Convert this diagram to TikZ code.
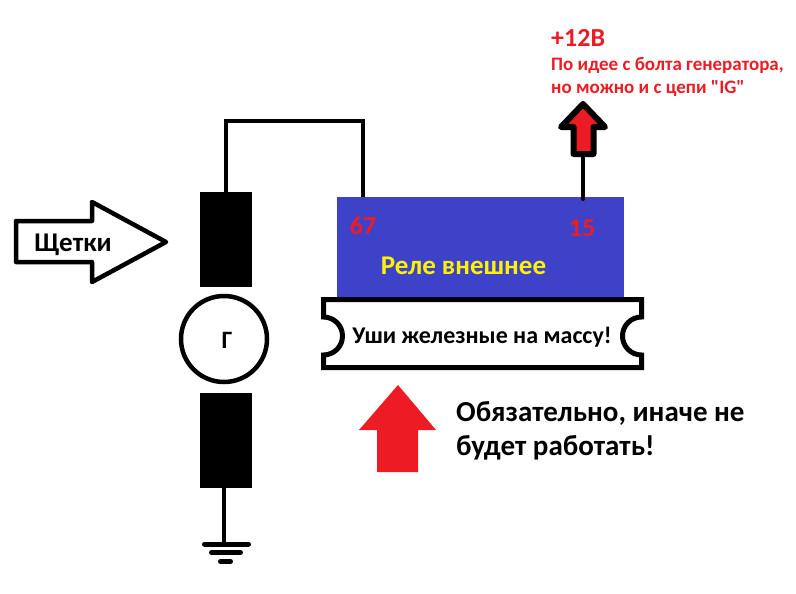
\documentclass[tikz,border=0pt]{standalone}
\usepackage{fontspec}
\setmainfont{Carlito}[Ligatures=TeXOff]
\definecolor{relayblue}{RGB}{62,66,200}
\definecolor{signred}{RGB}{237,28,36}
\definecolor{signyellow}{RGB}{255,242,0}
\newcommand{\lbl}[1]{\fontsize{#1}{#1}\selectfont\bfseries}
\tikzset{
  wire/.style={line width=4pt},
  brush/.style={fill=black,minimum width=52pt,minimum height=95pt,inner sep=0pt},
  outline/.style={line width=4.5pt,line join=round},
  groundbar/.style={line width=5pt,line cap=round},
  lab/.style={inner sep=0pt,align=left}
}
\begin{document}
\begin{tikzpicture}[x=1pt,y=-1pt]
\useasboundingbox[fill=white] (0,0) rectangle (796,594);
% generator
\node[brush] (brushtop) at (226,239.5) {};
\node[brush] (brushbot) at (226,440.5) {};
\node[circle,draw,line width=4.5pt,minimum size=86pt,inner sep=0pt] (gen) at (224,339) {};
\node[lab] (genlabel) at (227,340) {\lbl{25}Г};
% relay and plate
\node[fill=relayblue,minimum width=287pt,minimum height=100pt,inner sep=0pt] (relay) at (480.5,247) {};
\draw[line width=5pt,fill=white] (323.5,299.5) -- (641.5,299.5) -- (641.5,317) arc[start angle=270,end angle=90,radius=19] -- (641.5,367.5) -- (323.5,367.5) -- (323.5,355) arc[start angle=90,end angle=-90,radius=19] -- cycle;
\coordinate (pin67) at (363,197);
\coordinate (pin15) at (583,199);
\draw[wire] (brushtop.north) -- ++(0,-71) -| (pin67);
% arrow to +12
\draw[line width=6pt,line join=round,fill=signred] (583,104) -- (605,127) -- (593.5,127) -- (593.5,154) -- (573.5,154) -- (573.5,127) -- (561,127) -- cycle;
\coordinate (arrowfoot) at (583,154);
\draw[wire,line cap=round] (arrowfoot) -- (pin15);
% brushes arrow
\draw[outline,fill=white] (16,221) -- (92,221) -- (92,202) -- (166,242) -- (92,282) -- (92,262) -- (16,262) -- cycle;
% big red arrow
\fill[signred,line join=round] (398,385) -- (436,430) -- (418,430) -- (418,472) -- (377,472) -- (377,430) -- (359,430) -- cycle;
% ground
\coordinate (gndtop) at (224,544);
\draw[wire] (gndtop |- brushbot.south) -- (gndtop);
\draw[groundbar] (204.5,544) -- (248.5,544);
\draw[groundbar] (211.5,552.5) -- (240.5,552.5);
\draw[groundbar] (220.5,561.5) -- (230.5,561.5);
% texts
\node[lab] (brushlabel) at (73,245) {\lbl{27}Щетки};
\node[lab,text=signred] (label67) at (363,226) {\lbl{26}67};
\node[lab,text=signred] (label15) at (582,228) {\lbl{26}15};
\node[lab,text=signyellow] (relaylabel) at (463.5,266) {\lbl{27}Реле внешнее};
\node[lab] (platelabel) at (482,337) {\lbl{24}Уши железные на массу!};
\node[lab,anchor=west] (must1) at (456,413) {\lbl{29}Обязательно, иначе не};
\node[lab,anchor=west] (must2) at (456,448) {\lbl{29}будет работать!};
\node[lab,anchor=west,text=signred] (plus12) at (551,38) {\lbl{26}+12В};
\node[lab,anchor=west,text=signred] (note1) at (551,65) {\lbl{19}По идее с болта генератора,};
\node[lab,anchor=west,text=signred] (note2) at (551,89) {\lbl{19}но можно и с цепи "IG"};
\end{tikzpicture}
\end{document}
